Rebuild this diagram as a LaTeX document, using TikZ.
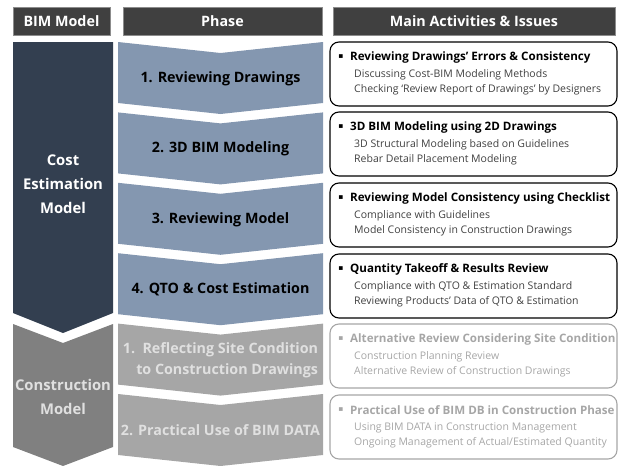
\documentclass[tikz,border=0pt]{standalone}
\usepackage{fontspec}
\setmainfont{Open Sans}
\newfontfamily\symfont{DejaVu Sans}
\usetikzlibrary{positioning}

\definecolor{headgray}{HTML}{404040}
\definecolor{headline}{HTML}{8C8C8C}
\definecolor{costblue}{HTML}{333F50}
\definecolor{phaseblue}{HTML}{8497B0}
\definecolor{constgray}{HTML}{808080}
\definecolor{phasegray}{HTML}{A6A6A6}
\definecolor{palegray}{HTML}{E0E0E0}
\definecolor{itemgray}{HTML}{404040}

\tikzset{
  header/.style={fill=headgray, draw=headline, line width=0.8pt},
  headtext/.style={text=white, font=\bfseries\fontsize{14.3}{16}\selectfont},
  modeltext/.style={align=center, font=\bfseries\fontsize{14.8}{24}\selectfont},
  phasetext/.style={align=center, font=\bfseries\fontsize{14.3}{21}\selectfont},
  actbox/.style={draw=black, line width=1.1pt, rounded corners=9pt},
  oldbox/.style={draw=phasegray, line width=1.1pt, rounded corners=9pt},
  bullet/.style={inner sep=0pt, font=\symfont\fontsize{7.5}{8}\selectfont},
  acttitle/.style={anchor=west, inner sep=0pt, font=\bfseries\fontsize{11.6}{13}\selectfont},
  actitem/.style={anchor=west, inner sep=0pt, font=\fontsize{10.5}{12}\selectfont}
}

% chevron of the phase column: #1 style, #2 top
\newcommand{\phasechev}[2]{
  \fill[#1] (118,#2) -- (220.5,#2+11) -- (323,#2) -- (323,#2+61) -- (220.5,#2+72) -- (118,#2+61) -- cycle;
}

\begin{document}
\begin{tikzpicture}[x=1pt,y=-1pt]
  \useasboundingbox (0,0) rectangle (627,466);

  % headers
  \draw[header] (13,7) rectangle (110,35);
  \node[headtext] (hmodel) at (61.5,21) {BIM Model};
  \draw[header] (123,7) rectangle (322,35);
  \node[headtext] (hphase) at (222.5,21) {Phase};
  \draw[header] (333,7) rectangle (615,35);
  \node[headtext] (hact) at (474,21) {Main Activities \& Issues};

  % BIM model column
  \fill[costblue] (13,42) -- (113,42) -- (113,313) -- (63,333) -- (13,313) -- cycle;
  \node[modeltext, text=white] (mcost) at (63,184) {Cost\\Estimation\\Model};
  \fill[constgray] (13,324) -- (63,343) -- (113,324) -- (113,447) -- (63,466) -- (13,447) -- cycle;
  \node[modeltext, text=palegray] (mcons) at (63,397) {Construction\\Model};

  % phases
  \foreach \i/\yt/\txt in {1/42/{1. Reviewing Drawings}, 2/112.4/{2. 3D BIM Modeling},
                           3/182.8/{3. Reviewing Model}, 4/253.2/{4. QTO \& Cost Estimation}}{
    \phasechev{phaseblue}{\yt}
    \node[phasetext, text=black] (ph\i) at (220.5,\yt+36.5) {\txt};
  }
  \foreach \i/\yt/\txt in {5/323.6/{1.\ \ Reflecting Site Condition\\to Construction Drawings},
                           6/394/{2. Practical Use of BIM DATA}}{
    \phasechev{phasegray}{\yt}
    \node[phasetext, align=right, text=palegray] (ph\i) at (220.5,\yt+36.5) {\txt};
  }

  % activities
  \foreach \i/\yt/\ttl/\la/\lb in {
      1/42/{Reviewing Drawings’ Errors \& Consistency}/{Discussing Cost-BIM Modeling Methods}/{Checking ‘Review Report of Drawings’ by Designers},
      2/112/{3D BIM Modeling using 2D Drawings}/{3D Structural Modeling based on Guidelines}/{Rebar Detail Placement Modeling},
      3/183/{Reviewing Model Consistency using Checklist}/{Compliance with Guidelines}/{Model Consistency in Construction Drawings},
      4/254/{Quantity Takeoff \& Results Review}/{Compliance with QTO \& Estimation Standard}/{Reviewing Products’ Data of QTO \& Estimation}}{
    \draw[actbox] (330,\yt) rectangle (617,\yt+64);
    \node[bullet, text=black] (b\i) at (341,\yt+15) {▪};
    \node[acttitle, text=black] (t\i) at (350,\yt+15) {\ttl};
    \node[actitem, text=itemgray] (la\i) at (354,\yt+33) {\la};
    \node[actitem, text=itemgray] (lb\i) at (354,\yt+48) {\lb};
  }
  \foreach \i/\yt/\ttl/\la/\lb in {
      5/324/{Alternative Review Considering Site Condition}/{Construction Planning Review}/{Alternative Review of Construction Drawings},
      6/395/{Practical Use of BIM DB in Construction Phase}/{Using BIM DATA in Construction Management}/{Ongoing Management of Actual/Estimated Quantity}}{
    \draw[oldbox] (330,\yt) rectangle (617,\yt+64);
    \node[bullet, text=phasegray] (b\i) at (341,\yt+15) {▪};
    \node[acttitle, text=phasegray] (t\i) at (350,\yt+15) {\ttl};
    \node[actitem, text=phasegray] (la\i) at (354,\yt+33) {\la};
    \node[actitem, text=phasegray] (lb\i) at (354,\yt+48) {\lb};
  }
\end{tikzpicture}
\end{document}
